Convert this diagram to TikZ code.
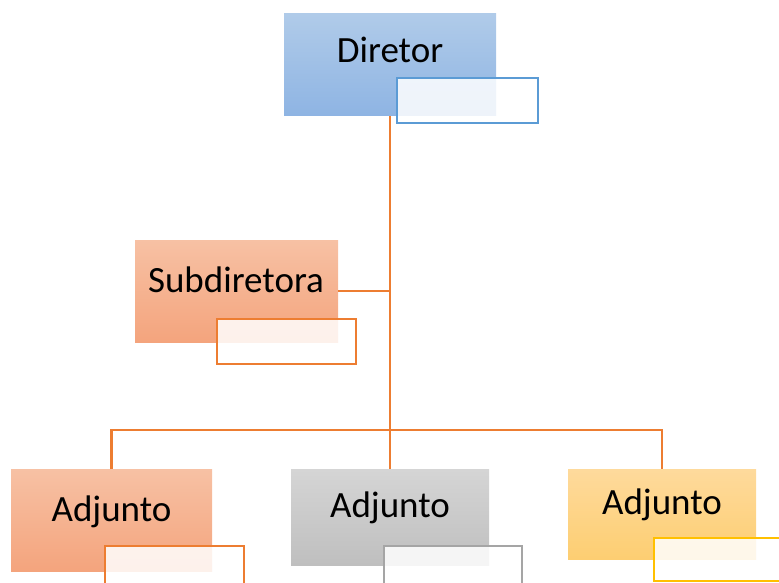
\documentclass[tikz,border=0pt]{standalone}
\usepackage{fontspec}
\setmainfont{Carlito}
\definecolor{lineor}{HTML}{ED7D31}
\definecolor{blueb}{HTML}{5B9BD5}
\definecolor{grayb}{HTML}{A5A5A5}
\definecolor{yelb}{HTML}{FFC000}
\definecolor{blueT}{HTML}{B0CBE9}
\definecolor{blueB}{HTML}{8EB4E3}
\definecolor{salT}{HTML}{F7C1A4}
\definecolor{salB}{HTML}{F4A47D}
\definecolor{grayT}{HTML}{D5D5D5}
\definecolor{grayB}{HTML}{BFBFBF}
\definecolor{yelT}{HTML}{FEDA9C}
\definecolor{yelB}{HTML}{FDCE72}
\tikzset{
  orgbox/.style={anchor=north west, inner sep=0pt, outer sep=0pt},
  namebox/.style={anchor=north west, inner sep=0pt, outer sep=0pt, fill=white, fill opacity=0.85, line width=2pt},
  lbl/.style={anchor=base, inner sep=0pt, font=\fontsize{37}{41}\selectfont},
  conn/.style={draw=lineor, line width=2.8pt}
}
\begin{document}
\begin{tikzpicture}[x=1pt,y=-1pt]
\useasboundingbox (0,0) rectangle (779,583);
% boxes
\node[orgbox, minimum width=212pt, minimum height=102pt, top color=blueT, bottom color=blueB] (dir) at (284,14) {};
\node[orgbox, minimum width=203pt, minimum height=102pt, top color=salT, bottom color=salB] (sub) at (135,240) {};
\node[orgbox, minimum width=201pt, minimum height=102pt, top color=salT, bottom color=salB] (a1) at (11,469) {};
\node[orgbox, minimum width=198pt, minimum height=96pt, top color=grayT, bottom color=grayB] (a2) at (291,469) {};
\node[orgbox, minimum width=188pt, minimum height=90pt, top color=yelT, bottom color=yelB] (a3) at (568,469) {};
% connectors
\coordinate (jct) at (390,430);
\draw[conn] (dir.south) -- (jct);
\draw[conn] (sub.east) -- (sub.east -| dir.south);
\draw[conn] (a1.north) |- (jct) -| (a3.north);
\draw[conn] (jct) -- (a2.north);
% labels
\node[lbl] (tdir) at (390,63) {Diretor};
\node[lbl] (tsub) at (236,292) {Subdiretora};
\node[lbl] (ta1) at (111.5,521) {Adjunto};
\node[lbl] (ta2) at (390,517) {Adjunto};
\node[lbl] (ta3) at (662,514) {Adjunto};
% name boxes
\node[namebox, draw=blueb, minimum width=141pt, minimum height=45pt] (ndir) at (397,78) {};
\node[namebox, draw=lineor, minimum width=139pt, minimum height=45pt] (nsub) at (217,319) {};
\node[namebox, draw=lineor, minimum width=139pt, minimum height=45pt] (na1) at (105,546) {};
\node[namebox, draw=grayb, minimum width=138pt, minimum height=45pt] (na2) at (384,546) {};
\node[namebox, draw=yelb, minimum width=140pt, minimum height=43pt] (na3) at (654,538) {};
\end{tikzpicture}
\end{document}
